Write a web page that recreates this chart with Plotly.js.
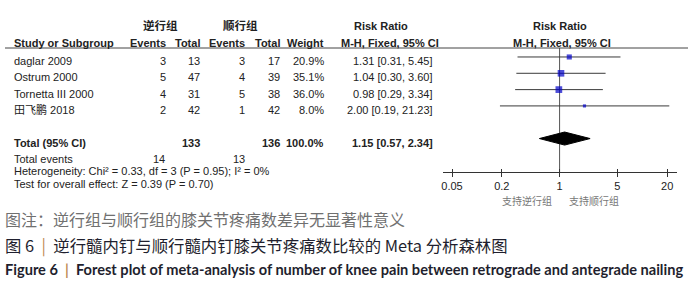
<!DOCTYPE html>
<html><head><meta charset="utf-8">
<script src="https://cdn.plot.ly/plotly-3.0.1.min.js"></script>
<style>html,body{margin:0;padding:0;background:#fff}#chart{width:700px;height:295px}</style>
</head><body><div id="chart"></div>
<script>
// ---- data ----
const studies = ['daglar 2009', 'Ostrum 2000', 'Tornetta III 2000', '田飞鹏 2018'];
const retroEvents = [3, 5, 4, 2];
const retroTotal = [13, 47, 31, 42];
const anteEvents = [3, 4, 5, 1];
const anteTotal = [17, 39, 38, 42];
const weights = [20.9, 35.1, 36.0, 8.0];
const rr = [1.31, 1.04, 0.98, 2.00];
const ciLow = [0.31, 0.30, 0.29, 0.19];
const ciHigh = [5.45, 3.60, 3.34, 21.23];
const totalRetroN = 133, totalAnteN = 136, totalWeight = 100.0;
const totalRetroEvents = 14, totalAnteEvents = 13;
const pooledRR = 1.15, pooledLow = 0.57, pooledHigh = 2.34;
const tickVals = [0.05, 0.2, 1, 5, 20];
const tickLabels = ['0.05', '0.2', '1', '5', '20'];
const heterogeneityText = 'Heterogeneity: Chi² = 0.33, df = 3 (P = 0.95); I² = 0%';
const overallText = 'Test for overall effect: Z = 0.39 (P = 0.70)';
const groupLabels = ['逆行组', '顺行组'];
const favourLabels = ['支持逆行组', '支持顺行组'];
const noteText = '图注：逆行组与顺行组的膝关节疼痛数差异无显著性意义';
const captionCN = ['图 6', '逆行髓内钉与顺行髓内钉膝关节疼痛数比较的 Meta 分析森林图'];
const captionEN = ['Figure 6', 'Forest plot of meta-analysis of number of knee pain between retrograde and antegrade nailing'];

// ---- layout helpers ----
const W = 700, H = 295;
const px = x => x / W;
const py = y => 1 - y / H;
const FONT = 'Liberation Sans, Arial, sans-serif';
const CJK = 'Noto Sans CJK SC, sans-serif';
const TXT = '#222';
const yTop = 0.45, yBot = 8.05;           // y-axis range (row units)
const totalRow = studies.length + 2;
const rows = studies.map((_, i) => i + 1);

const ann = [];
function A(text, x, y, anchor, opts) {
  opts = opts || {};
  ann.push(Object.assign({
    text: text, x: px(x), y: py(y), xref: 'paper', yref: 'paper',
    xanchor: anchor, yanchor: 'middle', showarrow: false,
    font: {family: FONT, size: 11, color: TXT}
  }, opts));
}
function R(text, x, row, anchor, opts) {
  opts = opts || {};
  ann.push(Object.assign({
    text: text, x: px(x), y: row, xref: 'paper', yref: 'y', yshift: -4,
    xanchor: anchor, yanchor: 'middle', showarrow: false,
    font: {family: FONT, size: 11, color: TXT}
  }, opts));
}
const bold = s => '<b>' + s + '</b>';
const fmtCI = (r, l, h) => r.toFixed(2) + ' [' + l.toFixed(2) + ', ' + h.toFixed(2) + ']';

// columns (right edges in px)
const cEv1 = 168, cTot1 = 202, cEv2 = 247, cTot2 = 282, cW = 326, cRR = 435;

// headers
A(groupLabels[0], 160, 25, 'center', {font: {family: CJK, size: 11.5, color: TXT, weight: 'bold'}});
A(groupLabels[1], 240, 25, 'center', {font: {family: CJK, size: 11.5, color: TXT, weight: 'bold'}});
A(bold('Risk Ratio'), 381, 26, 'center');
A(bold('Risk Ratio'), 560, 26, 'center');
A(bold('Study or Subgroup'), 12, 43, 'left');
A(bold('Events'), cEv1, 43, 'right');
A(bold('Total'), cTot1, 43, 'right');
A(bold('Events'), cEv2, 43, 'right');
A(bold('Total'), cTot2, 43, 'right');
A(bold('Weight'), cW, 43, 'right');
A(bold('M-H, Fixed, 95% CI'), 390, 43, 'center');
A(bold('M-H, Fixed, 95% CI'), 562, 43, 'center');

// study rows
studies.forEach((s, i) => {
  const r = rows[i];
  const isCJK = /[\u4e00-\u9fff]/.test(s);
  R(s, 12, r, 'left', isCJK ? {font: {family: 'Liberation Sans, Noto Sans CJK SC, sans-serif', size: 11, color: TXT}} : {});
  R(String(retroEvents[i]), cEv1, r, 'right');
  R(String(retroTotal[i]), cTot1, r, 'right');
  R(String(anteEvents[i]), cEv2, r, 'right');
  R(String(anteTotal[i]), cTot2, r, 'right');
  R(weights[i].toFixed(1) + '%', cW, r, 'right');
  R(fmtCI(rr[i], ciLow[i], ciHigh[i]), cRR, r, 'right');
});

// total row
R(bold('Total (95% CI)'), 12, totalRow, 'left');
R(bold(String(totalRetroN)), cTot1, totalRow, 'right');
R(bold(String(totalAnteN)), cTot2, totalRow, 'right');
R(bold(totalWeight.toFixed(1) + '%'), cW, totalRow, 'right');
R(bold(fmtCI(pooledRR, pooledLow, pooledHigh)), cRR, totalRow, 'right');

// footnotes
A('Total events', 12, 158.5, 'left');
A(String(totalRetroEvents), cEv1 - 1, 158.5, 'right');
A(String(totalAnteEvents), cEv2, 158.5, 'right');
A(heterogeneityText, 12, 171, 'left');
A(overallText, 12, 184, 'left');

// favour labels (on axis coords, log axis -> log10 value)
ann.push({text: favourLabels[0], x: Math.log10(1), y: py(200), xref: 'x', yref: 'paper',
  xanchor: 'right', yanchor: 'middle', xshift: -6, showarrow: false,
  font: {family: CJK, size: 10, color: '#777'}});
ann.push({text: favourLabels[1], x: Math.log10(1), y: py(200), xref: 'x', yref: 'paper',
  xanchor: 'left', yanchor: 'middle', xshift: 7, showarrow: false,
  font: {family: CJK, size: 10, color: '#777'}});

// captions
A(noteText, 3, 219, 'left', {font: {family: CJK, size: 16, color: '#707070'}});
A(captionCN[0] + '  <span style="color:#c08a55">|</span>  ' + captionCN[1], 3, 245, 'left',
  {font: {family: CJK, size: 16.4, color: '#1f1f2e'}});
A(bold(captionEN[0] + '  <span style="color:#c08a55">|</span>  ' + captionEN[1]), 3, 269, 'left',
  {font: {family: 'Lato, Open Sans, sans-serif', size: 14.6, color: '#1f1f2e'}});

// ---- traces ----
const ciX = [], ciY = [];
rows.forEach((r, i) => { ciX.push(ciLow[i], ciHigh[i], null); ciY.push(r, r, null); });

const traces = [
  {x: [1, 1], y: [yTop, yBot], mode: 'lines', line: {color: '#555', width: 1}, hoverinfo: 'skip', xaxis: 'x', yaxis: 'y'},
  {x: ciX, y: ciY, mode: 'lines', line: {color: '#3a3a3a', width: 1}, hoverinfo: 'skip', xaxis: 'x', yaxis: 'y'},
  {x: rr, y: rows, mode: 'markers', xaxis: 'x', yaxis: 'y',
   marker: {symbol: 'square', color: '#0000c8', size: weights.map(w => 1.12 * Math.sqrt(w)), line: {width: 0}}},
  {x: [pooledLow, pooledRR, pooledHigh, pooledRR, pooledLow],
   y: [totalRow, totalRow - 0.4, totalRow, totalRow + 0.4, totalRow],
   mode: 'lines', fill: 'toself', fillcolor: '#000', line: {color: '#000', width: 1}, xaxis: 'x', yaxis: 'y'},
  {x: [1], y: [null], mode: 'markers', xaxis: 'x2', yaxis: 'y', hoverinfo: 'skip'}
];

const xr = [-1.41, 1.42];
const layout = {
  width: W, height: H, margin: {l: 0, r: 0, t: 0, b: 0},
  paper_bgcolor: '#fff', plot_bgcolor: 'rgba(0,0,0,0)', showlegend: false,
  xaxis: {type: 'log', domain: [443 / W, 677 / W], range: xr, tickvals: tickVals, ticktext: tickLabels,
    ticks: 'outside', ticklen: 4, tickwidth: 1, tickcolor: '#333', showline: true, linecolor: '#333', linewidth: 1,
    showgrid: false, zeroline: false, anchor: 'y', fixedrange: true,
    tickfont: {family: FONT, size: 11, color: TXT}},
  xaxis2: {type: 'log', overlaying: 'x', range: xr, tickvals: tickVals, ticks: 'inside', ticklen: 3, tickwidth: 1,
    tickcolor: '#333', showticklabels: false, showline: false, showgrid: false, zeroline: false, anchor: 'y', side: 'bottom'},
  yaxis: {domain: [1 - 172 / H, 1 - 48 / H], range: [yBot, yTop], visible: false, fixedrange: true},
  shapes: [
    {type: 'line', xref: 'paper', yref: 'paper', x0: px(5), x1: px(688), y0: py(48), y1: py(48), line: {color: '#444', width: 1}}
  ],
  annotations: ann
};
Plotly.newPlot('chart', traces, layout, {staticPlot: true, displayModeBar: false});
</script></body></html>
